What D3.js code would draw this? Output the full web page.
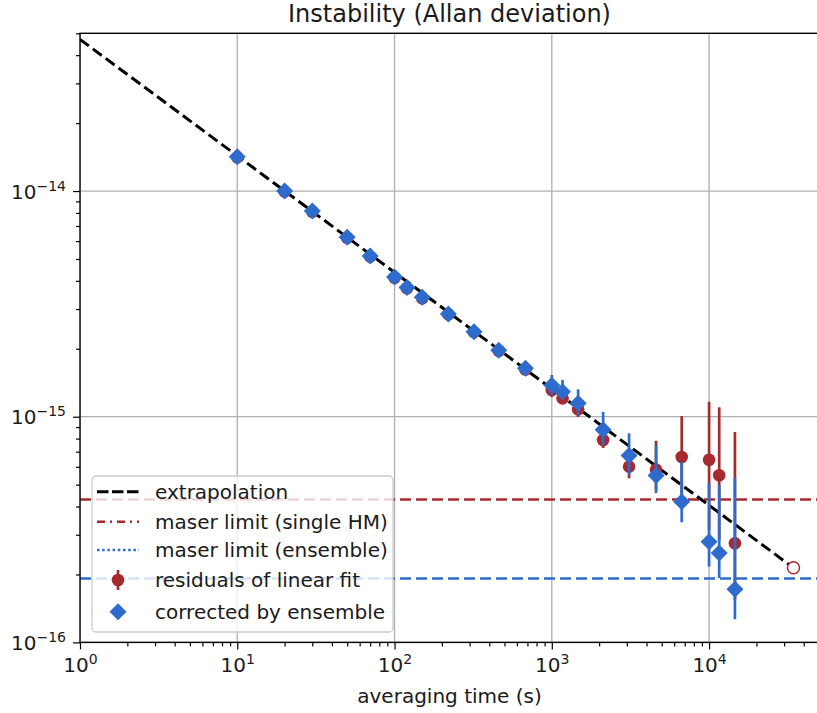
<!DOCTYPE html>
<html>
<head>
<meta charset="utf-8">
<script src="https://cdn.jsdelivr.net/npm/d3@7"></script>
<style>
  body { margin: 0; background: #fff; }
  text { font-family: "DejaVu Sans", sans-serif; fill: #1a1a1a; }
</style>
</head>
<body>
<div id="chart"></div>
<script>
// averaging times (s)
var tau = [10, 20, 30, 50, 70, 100, 120, 150, 220, 320, 460, 680, 1000, 1170, 1470, 2120, 3100, 4600, 6700, 10000, 11600, 14600];

// corrected by ensemble
var adevEns = [1.42e-14, 1.00e-14, 8.15e-15, 6.24e-15, 5.15e-15, 4.16e-15, 3.74e-15, 3.38e-15, 2.85e-15, 2.38e-15, 1.97e-15, 1.64e-15,
               1.38e-15, 1.29e-15, 1.147e-15, 8.76e-16, 6.73e-16, 5.49e-16, 4.20e-16, 2.79e-16, 2.49e-16, 1.72e-16];
var ensLo = [1.39e-14, 0.98e-14, 8.0e-15, 6.1e-15, 5.05e-15, 4.08e-15, 3.66e-15, 3.30e-15, 2.78e-15, 2.32e-15, 1.92e-15, 1.59e-15,
             1.248e-15, 1.186e-15, 1.017e-15, 7.49e-16, 5.52e-16, 4.59e-16, 3.41e-16, 2.17e-16, 1.93e-16, 1.265e-16];
var ensHi = [1.45e-14, 1.02e-14, 8.3e-15, 6.38e-15, 5.26e-15, 4.25e-15, 3.83e-15, 3.47e-15, 2.93e-15, 2.45e-15, 2.03e-15, 1.70e-15,
             1.531e-15, 1.456e-15, 1.322e-15, 1.05e-15, 8.44e-16, 7.49e-16, 6.30e-16, 5.07e-16, 4.98e-16, 5.35e-16];

// residuals of linear fit
var adevRes = [1.41e-14, 0.995e-14, 8.1e-15, 6.2e-15, 5.12e-15, 4.13e-15, 3.71e-15, 3.35e-15, 2.84e-15, 2.37e-15, 1.96e-15, 1.62e-15,
               1.313e-15, 1.206e-15, 1.078e-15, 7.88e-16, 6.01e-16, 5.83e-16, 6.63e-16, 6.45e-16, 5.50e-16, 2.75e-16];
var resLo = [1.38e-14, 0.975e-14, 7.95e-15, 6.07e-15, 5.02e-15, 4.05e-15, 3.63e-15, 3.27e-15, 2.77e-15, 2.31e-15, 1.91e-15, 1.57e-15,
             1.222e-15, 1.138e-15, 9.98e-16, 7.27e-16, 5.33e-16, 4.73e-16, 4.28e-16, 3.15e-16, 2.84e-16, 1.54e-16];
var resHi = [1.44e-14, 1.015e-14, 8.25e-15, 6.33e-15, 5.22e-15, 4.21e-15, 3.79e-15, 3.43e-15, 2.91e-15, 2.43e-15, 2.01e-15, 1.67e-15,
             1.426e-15, 1.34e-15, 1.186e-15, 8.91e-16, 6.98e-16, 7.83e-16, 1.007e-15, 1.165e-15, 1.101e-15, 8.55e-16];

// extrapolation (end points) and maser limits
var extrapTau = [1, 34400];
var extrapAdev = [4.7e-14, 2.14e-16];
var maserSingle = 4.30e-16;
var maserEnsemble = 1.92e-16;

var xTicks = [1, 10, 100, 1000, 10000];
var yTicks = [1e-16, 1e-15, 1e-14];

var legendLabels = ["extrapolation", "maser limit (single HM)", "maser limit (ensemble)", "residuals of linear fit", "corrected by ensemble"];

var red = "#a72a2f", blue = "#2d6bcd";

var W = 817, H = 713;
var margin = { top: 33.3, right: -2, bottom: 70.6, left: 80 };

var x = d3.scaleLog().domain([1, 5e4]).range([margin.left, W - margin.right]);
var y = d3.scaleLog().domain([1e-16, 5e-14]).range([H - margin.bottom, margin.top]);

var svg = d3.select("#chart").append("svg")
    .attr("width", W)
    .attr("height", H);

svg.append("defs").append("clipPath").attr("id", "plotclip")
    .append("rect")
    .attr("x", margin.left).attr("y", margin.top)
    .attr("width", x.range()[1] - margin.left)
    .attr("height", y.range()[0] - margin.top);

// minor ticks
var xMinor = [], yMinor = [];
[1, 10, 100, 1000, 10000].forEach(function(d) {
    for (var k = 2; k <= 9; k++) if (d * k <= 5e4) xMinor.push(d * k);
});
[1e-16, 1e-15, 1e-14].forEach(function(d) {
    for (var k = 2; k <= 9; k++) if (d * k <= 5e-14) yMinor.push(d * k);
});

// grid
var grid = svg.append("g").attr("clip-path", "url(#plotclip)");
grid.selectAll(".gx").data(xTicks).enter().append("line")
    .attr("x1", function(d) { return x(d); }).attr("x2", function(d) { return x(d); })
    .attr("y1", y.range()[1]).attr("y2", y.range()[0])
    .attr("stroke", "#b0b0b0").attr("stroke-width", 1.3);
grid.selectAll(".gy").data(yTicks).enter().append("line")
    .attr("y1", function(d) { return y(d); }).attr("y2", function(d) { return y(d); })
    .attr("x1", x.range()[0]).attr("x2", x.range()[1])
    .attr("stroke", "#b0b0b0").attr("stroke-width", 1.3);

var plot = svg.append("g").attr("clip-path", "url(#plotclip)");

// maser limits
plot.append("line")
    .attr("x1", x.range()[0]).attr("x2", x.range()[1])
    .attr("y1", y(maserSingle)).attr("y2", y(maserSingle))
    .attr("stroke", red).attr("stroke-width", 2.5)
    .attr("stroke-dasharray", "11,5");
plot.append("line")
    .attr("x1", x.range()[0]).attr("x2", x.range()[1])
    .attr("y1", y(maserEnsemble)).attr("y2", y(maserEnsemble))
    .attr("stroke", blue).attr("stroke-width", 2.5)
    .attr("stroke-dasharray", "11,5");

// extrapolation
var line = d3.line()
    .x(function(d) { return x(d[0]); })
    .y(function(d) { return y(d[1]); });
plot.append("path")
    .datum(d3.zip(extrapTau, extrapAdev))
    .attr("d", line)
    .attr("fill", "none")
    .attr("stroke", "#000")
    .attr("stroke-width", 3)
    .attr("stroke-dasharray", "11,5");

plot.append("circle")
    .attr("cx", x(extrapTau[1])).attr("cy", y(extrapAdev[1]))
    .attr("r", 6)
    .attr("fill", "#fff")
    .attr("stroke", red).attr("stroke-width", 1.5);

// residuals of linear fit
var res = tau.map(function(t, i) { return { t: t, v: adevRes[i], lo: resLo[i], hi: resHi[i] }; });
plot.selectAll(".rerr").data(res).enter().append("line")
    .attr("x1", function(d) { return x(d.t); }).attr("x2", function(d) { return x(d.t); })
    .attr("y1", function(d) { return y(d.lo); }).attr("y2", function(d) { return y(d.hi); })
    .attr("stroke", red).attr("stroke-width", 2.7);
plot.selectAll(".rdot").data(res).enter().append("circle")
    .attr("cx", function(d) { return x(d.t); })
    .attr("cy", function(d) { return y(d.v); })
    .attr("r", 6.3)
    .attr("fill", red);

// corrected by ensemble
var ens = tau.map(function(t, i) { return { t: t, v: adevEns[i], lo: ensLo[i], hi: ensHi[i] }; });
plot.selectAll(".berr").data(ens).enter().append("line")
    .attr("x1", function(d) { return x(d.t); }).attr("x2", function(d) { return x(d.t); })
    .attr("y1", function(d) { return y(d.lo); }).attr("y2", function(d) { return y(d.hi); })
    .attr("stroke", blue).attr("stroke-width", 2.7);
var diamond = "M0,-8.5L8.5,0L0,8.5L-8.5,0Z";
plot.selectAll(".bdot").data(ens).enter().append("path")
    .attr("d", diamond)
    .attr("transform", function(d) { return "translate(" + x(d.t) + "," + y(d.v) + ")"; })
    .attr("fill", blue);

// axes
var xAxisMajor = d3.axisBottom(x).tickValues(xTicks).tickSize(7).tickSizeOuter(0).tickPadding(8);
var xAxisMinor = d3.axisBottom(x).tickValues(xMinor).tickSize(4).tickSizeOuter(0).tickFormat("");
var yAxisMajor = d3.axisLeft(y).tickValues(yTicks).tickSize(7).tickSizeOuter(0).tickPadding(7);
var yAxisMinor = d3.axisLeft(y).tickValues(yMinor).tickSize(4).tickSizeOuter(0).tickFormat("");

function expLabel(sel, fmt) {
    sel.selectAll("text").each(function(d) {
        var t = d3.select(this).text("");
        t.append("tspan").text("10");
        t.append("tspan").attr("dy", "-8").attr("font-size", "14px").text(fmt(d));
    });
}

var gx = svg.append("g").attr("transform", "translate(0," + y.range()[0] + ")");
gx.call(xAxisMinor);
gx.append("g").call(xAxisMajor).call(function(g) {
    expLabel(g, function(d) { return String(Math.round(Math.log10(d))); });
    g.selectAll("text").attr("font-size", "20px").attr("font-family", "DejaVu Sans")
        .attr("y", 30).attr("dy", 0);
});

var gy = svg.append("g").attr("transform", "translate(" + x.range()[0] + ",0)");
gy.call(yAxisMinor);
gy.append("g").call(yAxisMajor).call(function(g) {
    expLabel(g, function(d) { return "\u2212" + Math.round(-Math.log10(d)); });
    g.selectAll("text").attr("font-size", "20px").attr("font-family", "DejaVu Sans").attr("dy", "0.36em");
});

svg.selectAll(".domain").remove();
svg.selectAll(".tick line").attr("stroke", "#000").attr("stroke-width", 1.2);

// spines
svg.append("rect")
    .attr("x", x.range()[0]).attr("y", y.range()[1])
    .attr("width", x.range()[1] - x.range()[0])
    .attr("height", y.range()[0] - y.range()[1])
    .attr("fill", "none").attr("stroke", "#000").attr("stroke-width", 1.4);

// title and axis label
svg.append("text")
    .attr("x", (x.range()[0] + x.range()[1]) / 2).attr("y", 22)
    .attr("text-anchor", "middle").attr("font-size", "24px")
    .text("Instability (Allan deviation)");
svg.append("text")
    .attr("x", (x.range()[0] + x.range()[1]) / 2).attr("y", 703)
    .attr("text-anchor", "middle").attr("font-size", "20px")
    .text("averaging time (s)");

// legend
var lg = svg.append("g").attr("transform", "translate(92,476)");
lg.append("rect")
    .attr("width", 301).attr("height", 156).attr("rx", 4)
    .attr("fill", "#fff").attr("fill-opacity", 0.8)
    .attr("stroke", "#cccccc").attr("stroke-width", 1.3);

var rowY = [15.7, 45.7, 74, 104, 135.7];
lg.selectAll(".lt").data(legendLabels).enter().append("text")
    .attr("x", 63).attr("y", function(d, i) { return rowY[i] + 7; })
    .attr("font-size", "20px")
    .text(function(d) { return d; });

lg.append("line").attr("x1", 5).attr("x2", 47).attr("y1", rowY[0]).attr("y2", rowY[0])
    .attr("stroke", "#000").attr("stroke-width", 3).attr("stroke-dasharray", "11.5,3.5");
lg.append("line").attr("x1", 5).attr("x2", 47).attr("y1", rowY[1]).attr("y2", rowY[1])
    .attr("stroke", red).attr("stroke-width", 2.5).attr("stroke-dasharray", "8,5,2,5");
lg.append("line").attr("x1", 5).attr("x2", 47).attr("y1", rowY[2]).attr("y2", rowY[2])
    .attr("stroke", blue).attr("stroke-width", 2.5).attr("stroke-dasharray", "2.5,2.7");
lg.append("line").attr("x1", 26).attr("x2", 26).attr("y1", rowY[3] - 10).attr("y2", rowY[3] + 10)
    .attr("stroke", red).attr("stroke-width", 2.7);
lg.append("circle").attr("cx", 26).attr("cy", rowY[3]).attr("r", 6.3).attr("fill", red);
lg.append("path").attr("d", diamond)
    .attr("transform", "translate(26," + rowY[4] + ")")
    .attr("fill", blue);
</script>
</body>
</html>
